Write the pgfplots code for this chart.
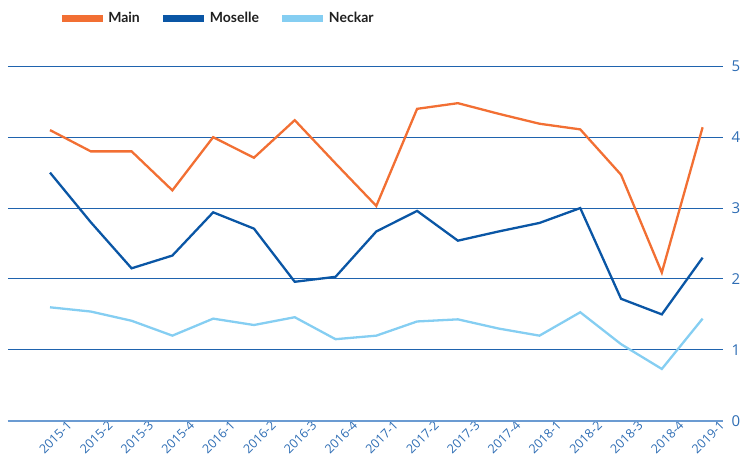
\documentclass[border=0pt]{standalone}
\usepackage{pgfplots}
\pgfplotsset{compat=1.18}
\usepackage{fontspec}
\setmainfont{Open Sans}
\newfontfamily\legfont{Lato}
\definecolor{cMain}{HTML}{F26F33}
\definecolor{cMos}{HTML}{0A56A5}
\definecolor{cNec}{HTML}{85CEF2}
\definecolor{cGrid}{HTML}{1F63AE}
\definecolor{cBase}{HTML}{6B9BD2}
\definecolor{cTick}{HTML}{2E6DB4}
\begin{document}
\begin{tikzpicture}
\path[use as bounding box] (0,0) rectangle (743pt,464pt);
\begin{axis}[
  at={(8pt,43.3pt)}, anchor=south west,
  scale only axis, width=715pt, height=354.4pt,
  xmin=-1.03, xmax=16.5, ymin=0, ymax=5,
  axis line style={draw=none},
  xtick={0,...,16},
  xticklabels={2015-1,2015-2,2015-3,2015-4,2016-1,2016-2,2016-3,2016-4,2017-1,2017-2,2017-3,2017-4,2018-1,2018-2,2018-3,2018-4,2019-1},
  x tick label style={rotate=45, anchor=north east, font=\fontsize{12.5}{14}\selectfont, text=cTick, inner sep=0pt, xshift=12pt, yshift=-11pt},
  ytick={0,1,2,3,4,5},
  yticklabel pos=right,
  y tick label style={font=\fontsize{15}{18}\selectfont, text=cTick, xshift=5pt},
  /pgf/number format/assume math mode=true,
  major tick length=0pt,
  ymajorgrids, major grid style={cGrid, line width=0.9pt},
  clip=false,
  legend style={at={(axis description cs:0.07,1.136)}, anchor=west, draw=none, fill=none,
    legend columns=3, font=\legfont\bfseries\fontsize{14}{16}\selectfont, text=black!88,
    /tikz/every even column/.append style={column sep=18pt}, inner sep=0pt},
  legend image code/.code={\draw[#1, line width=7pt] (0pt,0pt)--(41pt,0pt);},
]
\draw[cBase, line width=1.6pt] (axis cs:-1.03,0) -- (axis cs:16.5,0);
\addplot[cMain, line width=2.3pt] coordinates {
(0,4.10) (1,3.80) (2,3.80) (3,3.25) (4,4.00) (5,3.71) (6,4.24) (7,3.63) (8,3.03)
(9,4.40) (10,4.48) (11,4.33) (12,4.19) (13,4.11) (14,3.47) (15,2.09) (16,4.14)};
\addlegendentry{Main}
\addplot[cMos, line width=2.3pt] coordinates {
(0,3.50) (1,2.80) (2,2.15) (3,2.33) (4,2.94) (5,2.71) (6,1.96) (7,2.03) (8,2.67)
(9,2.96) (10,2.54) (11,2.67) (12,2.79) (13,3.00) (14,1.72) (15,1.50) (16,2.30)};
\addlegendentry{Moselle}
\addplot[cNec, line width=2.3pt] coordinates {
(0,1.60) (1,1.54) (2,1.41) (3,1.20) (4,1.44) (5,1.35) (6,1.46) (7,1.15) (8,1.20)
(9,1.40) (10,1.43) (11,1.30) (12,1.20) (13,1.53) (14,1.08) (15,0.73) (16,1.44)};
\addlegendentry{Neckar}
\end{axis}
\end{tikzpicture}
\end{document}
